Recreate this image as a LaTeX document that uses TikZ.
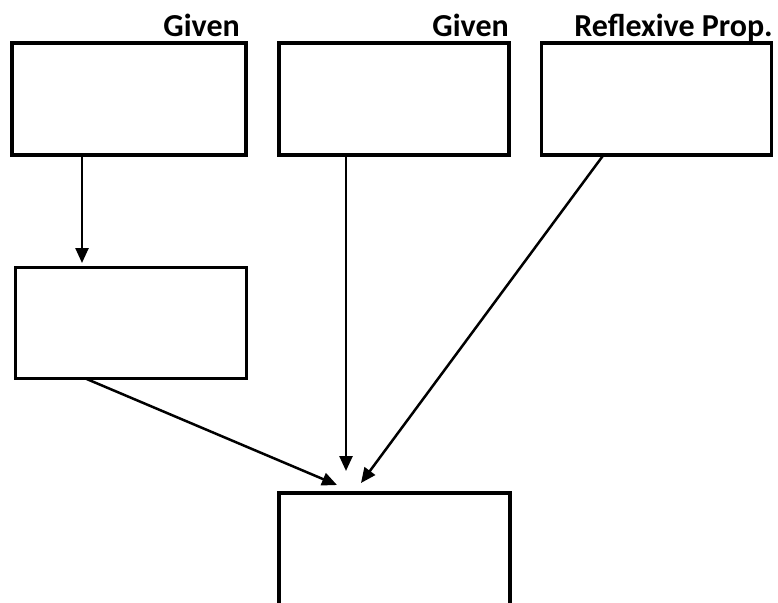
\documentclass[tikz,border=0pt]{standalone}
\usepackage{fontspec}
\setmainfont{Carlito}
\usetikzlibrary{arrows.meta,calc}
\begin{document}
\begin{tikzpicture}[x=1pt,y=-1pt,
  box/.style={draw,line width=3.5pt,inner sep=0pt,outer sep=0pt,fill=white},
  lbl/.style={anchor=base east,inner sep=0pt,font=\fontsize{32}{34}\selectfont\bfseries},
  arr/.style={line width=2.5pt,-{Triangle[length=15pt,width=13pt]}}]
\useasboundingbox (0,0) rectangle (778,602);
\clip (0,0) rectangle (778,602);
\node[box,minimum width=234pt,minimum height=112pt] (A) at (129,99) {};
\node[box,minimum width=230pt,minimum height=112pt] (B) at (394,99) {};
\node[box,minimum width=230pt,minimum height=112pt] (C) at (656.5,99) {};
\node[box,minimum width=231pt,minimum height=111pt] (D) at (131,323) {};
\node[box,minimum width=231pt,minimum height=130pt] (E) at (394.5,558) {};
\node[lbl] (LA) at (240,37) {Given};
\node[lbl] (LB) at (509,37) {Given};
\node[lbl] (LC) at (773,37) {Reflexive Prop.};
\coordinate (tD) at (82,263);
\coordinate (t1) at (337,485);
\coordinate (t2) at (346,471);
\coordinate (t3) at (361,483);
\draw[arr] ($(A.south west)+(70,0)$) -- (tD);
\draw[arr] ($(D.south west)+(70,0)$) -- (t1);
\draw[arr] ($(B.south west)+(67,0)$) -- (t2);
\draw[arr] ($(C.south west)+(62,0)$) -- (t3);
\end{tikzpicture}
\end{document}
